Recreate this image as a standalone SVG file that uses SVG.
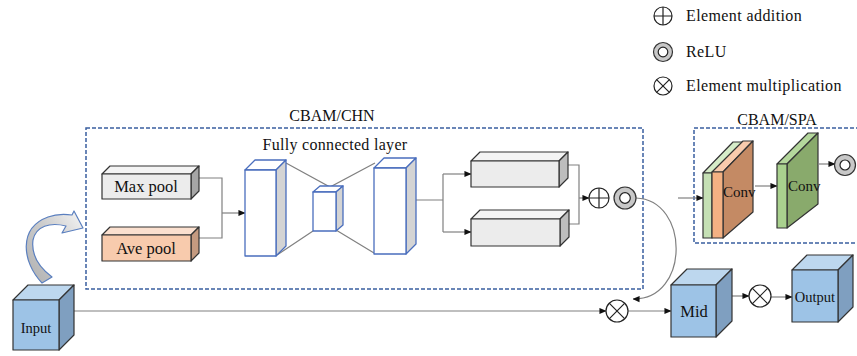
<svg xmlns="http://www.w3.org/2000/svg" width="857" height="356" viewBox="0 0 857 356">
<defs>
<style>
text{font-family:"Liberation Serif","Times New Roman",serif;fill:#111}
.dash{fill:none;stroke:#3a5fa0;stroke-width:1.5;stroke-dasharray:4 2}
.ln{fill:none;stroke:#808080;stroke-width:1.2}
.arr{marker-end:url(#ah)}
.bx{stroke:#333;stroke-width:1.2;stroke-linejoin:round}
.fc{stroke:#4a6ebd;stroke-width:1.3;stroke-linejoin:round}
.op{fill:#fff;stroke:#222;stroke-width:1.2}
.relu{fill:#c8c8c8;stroke:#333;stroke-width:1.2}
.cube{stroke:#333;stroke-width:1.2;stroke-linejoin:round}
.lg{font-size:16px;letter-spacing:0.4px}
</style>
<marker id="ah" viewBox="0 0 8 8" refX="7.5" refY="4" markerWidth="7" markerHeight="7" markerUnits="userSpaceOnUse" orient="auto">
<path d="M0,0.5 L8,4 L0,7.5 Z" fill="#111"/>
</marker>
<linearGradient id="ga" x1="0" y1="1" x2="1" y2="0">
<stop offset="0" stop-color="#b0b0b0"/>
<stop offset="0.55" stop-color="#cccccc"/>
<stop offset="1" stop-color="#f6f6f6"/>
</linearGradient>
</defs>

<g id="legend">
<circle class="op" cx="663" cy="16" r="9"/>
<path d="M654,16 H672 M663,7 V25" stroke="#222" stroke-width="1.2"/>
<text class="lg" x="686" y="21">Element addition</text>
<circle class="relu" cx="663" cy="52" r="9.5"/>
<circle cx="663" cy="52" r="4.8" fill="#fff" stroke="#222" stroke-width="1.2"/>
<text class="lg" x="686" y="57">ReLU</text>
<circle class="op" cx="663" cy="86" r="9"/>
<path d="M656.6,79.6 L669.4,92.4 M669.4,79.6 L656.6,92.4" stroke="#222" stroke-width="1.2"/>
<text class="lg" x="686" y="91">Element multiplication</text>
</g>

<g id="cbam-chn">
<rect class="dash" x="86" y="128" width="557" height="161"/>
<text x="332" y="121" font-size="16" text-anchor="middle">CBAM/CHN</text>
<text x="335" y="150" font-size="16" text-anchor="middle" letter-spacing="0.3">Fully connected layer</text>
</g>

<g id="cbam-spa">
<path class="dash" d="M860,128 H694 V243 H860"/>
<text x="777" y="125" font-size="16" text-anchor="middle">CBAM/SPA</text>
</g>

<g id="connectors">
<path class="ln" d="M199,178 H222 V238 H199"/>
<path class="ln arr" d="M222,213 H245"/>
<path class="ln" d="M286,163 L330,187 L375,163 M277,255 L313,231 M336,230 L374,253"/>
<path class="ln" d="M416,200 H443 M443,174 V232"/>
<path class="ln arr" d="M443,174 H471"/>
<path class="ln arr" d="M443,232 H471"/>
<path class="ln" d="M568,165 H579 V224 H568"/>
<path class="ln arr" d="M579,198 H589"/>
<path class="ln arr" d="M636,198 C690,200 690,300 633,299"/>
<path class="ln arr" d="M74,311 H606"/>
<path class="ln arr" d="M628,311 H671"/>
<path class="ln arr" d="M717,296 H749"/>
<path class="ln arr" d="M771,297 H792"/>
<path class="ln arr" d="M678,198 H703"/>
<path class="ln arr" d="M755,186 H777"/>
<path class="ln arr" d="M819,164 H835"/>
</g>

<g id="input">
<path d="M42,283 C22,262 18,228 48,217 C56,214 64,214 72,215 L74,211 L83,228 L62,233 L66,226 C50,222 36,226 33,240 C31,255 40,268 52,277 Z" fill="url(#ga)" stroke="#5a7fbf" stroke-width="1.2" stroke-linejoin="round"/>
<polygon class="cube" points="13,300 28,285 74,285 59,300" fill="#bdd7ee"/>
<polygon class="cube" points="59,300 74,285 74,335 59,350" fill="#7f9fc0"/>
<rect class="cube" x="13" y="300" width="46" height="50" fill="#9dc3e6"/>
<text x="36" y="333" font-size="14.5" text-anchor="middle">Input</text>
</g>

<g id="max-pool">
<polygon class="bx" points="102,174 110,166 199,166 191,174" fill="#f4f4f4"/>
<polygon class="bx" points="191,174 199,166 199,191 191,199" fill="#a6a6a6"/>
<rect class="bx" x="102" y="174" width="89" height="25" fill="#ececec"/>
<text x="146" y="192" font-size="16.5" text-anchor="middle">Max pool</text>
</g>

<g id="ave-pool">
<polygon class="bx" points="102,235 110,227 199,227 191,235" fill="#fbe0cf"/>
<polygon class="bx" points="191,235 199,227 199,253 191,261" fill="#c49a80"/>
<rect class="bx" x="102" y="235" width="89" height="26" fill="#f8cbad"/>
<text x="146" y="254" font-size="16.5" text-anchor="middle">Ave pool</text>
</g>

<g id="fc1">
<polygon class="fc" points="245,170 255,160 286,160 276,170" fill="#fff"/>
<polygon class="fc" points="276,170 286,160 286,246 276,256" fill="#d4d4d4"/>
<rect class="fc" x="245" y="170" width="31" height="86" fill="#fff"/>
</g>

<g id="fc2">
<polygon class="fc" points="313,192 320,186 343,186 336,192" fill="#fff"/>
<polygon class="fc" points="336,192 343,186 343,225 336,231" fill="#d4d4d4"/>
<rect class="fc" x="313" y="192" width="23" height="39" fill="#fff"/>
</g>

<g id="fc3">
<polygon class="fc" points="374,168 384,158 416,158 406,168" fill="#fff"/>
<polygon class="fc" points="406,168 416,158 416,244 406,254" fill="#d4d4d4"/>
<rect class="fc" x="374" y="168" width="32" height="86" fill="#fff"/>
</g>

<g id="branch-top">
<polygon class="bx" points="471,161 480,152 568,152 559,161" fill="#f4f4f4"/>
<polygon class="bx" points="559,161 568,152 568,178 559,187" fill="#bdbdbd"/>
<rect class="bx" x="471" y="161" width="88" height="26" fill="#ececec"/>
</g>

<g id="branch-bottom">
<polygon class="bx" points="471,219 480,210 569,210 560,219" fill="#f4f4f4"/>
<polygon class="bx" points="560,219 569,210 569,237 560,246" fill="#bdbdbd"/>
<rect class="bx" x="471" y="219" width="89" height="27" fill="#ececec"/>
</g>

<g id="add">
<circle class="op" cx="599" cy="198" r="10"/>
<path d="M589,198 H609 M599,188 V208" stroke="#222" stroke-width="1.2"/>
</g>

<g id="relu-chn">
<circle class="relu" cx="625" cy="198" r="11"/>
<circle cx="625" cy="198" r="5.3" fill="#fff" stroke="#222" stroke-width="1.2"/>
</g>

<g id="mul1">
<circle class="op" cx="617" cy="311" r="11"/>
<path d="M609.2,303.2 L624.8,318.8 M624.8,303.2 L609.2,318.8" stroke="#222" stroke-width="1.2"/>
</g>

<g id="mid">
<polygon class="cube" points="671,285 687,269 732,269 716,285" fill="#bdd7ee"/>
<polygon class="cube" points="716,285 732,269 732,321 716,337" fill="#7f9fc0"/>
<rect class="cube" x="671" y="285" width="45" height="52" fill="#9dc3e6"/>
<text x="694" y="317" font-size="16.5" text-anchor="middle">Mid</text>
</g>

<g id="mul2">
<circle class="op" cx="760" cy="296" r="11"/>
<path d="M752.2,288.2 L767.8,303.8 M767.8,288.2 L752.2,303.8" stroke="#222" stroke-width="1.2"/>
</g>

<g id="output">
<polygon class="cube" points="792,270 807,255 853,255 838,270" fill="#bdd7ee"/>
<polygon class="cube" points="838,270 853,255 853,307 838,322" fill="#7f9fc0"/>
<rect class="cube" x="792" y="270" width="46" height="52" fill="#9dc3e6"/>
<text x="815" y="302" font-size="14.5" text-anchor="middle">Output</text>
</g>

<g id="conv1">
<polygon class="bx" points="703,173 733,142 743,142 712,173" fill="#d6ecc8"/>
<rect class="bx" x="703" y="173" width="9" height="65" fill="#c5e0b4"/>
<polygon class="bx" points="712,172 743,141 753,141 723,172" fill="#f8cbad"/>
<polygon class="bx" points="723,172 753,141 753,212 723,238" fill="#c48a64"/>
<rect class="bx" x="712" y="172" width="11" height="66" fill="#f4b183"/>
<text x="723" y="197" font-size="15">Conv</text>
</g>

<g id="conv2">
<polygon class="bx" points="777,164 808,133 818,133 787,164" fill="#b4d79c"/>
<polygon class="bx" points="787,164 818,133 818,204 787,228" fill="#89aa6c"/>
<rect class="bx" x="777" y="164" width="10" height="64" fill="#a9d18e"/>
<text x="788" y="191" font-size="15">Conv</text>
</g>

<g id="relu-spa">
<circle class="relu" cx="845" cy="165" r="10.5"/>
<circle cx="845" cy="165" r="5" fill="#fff" stroke="#222" stroke-width="1.2"/>
</g>
</svg>
